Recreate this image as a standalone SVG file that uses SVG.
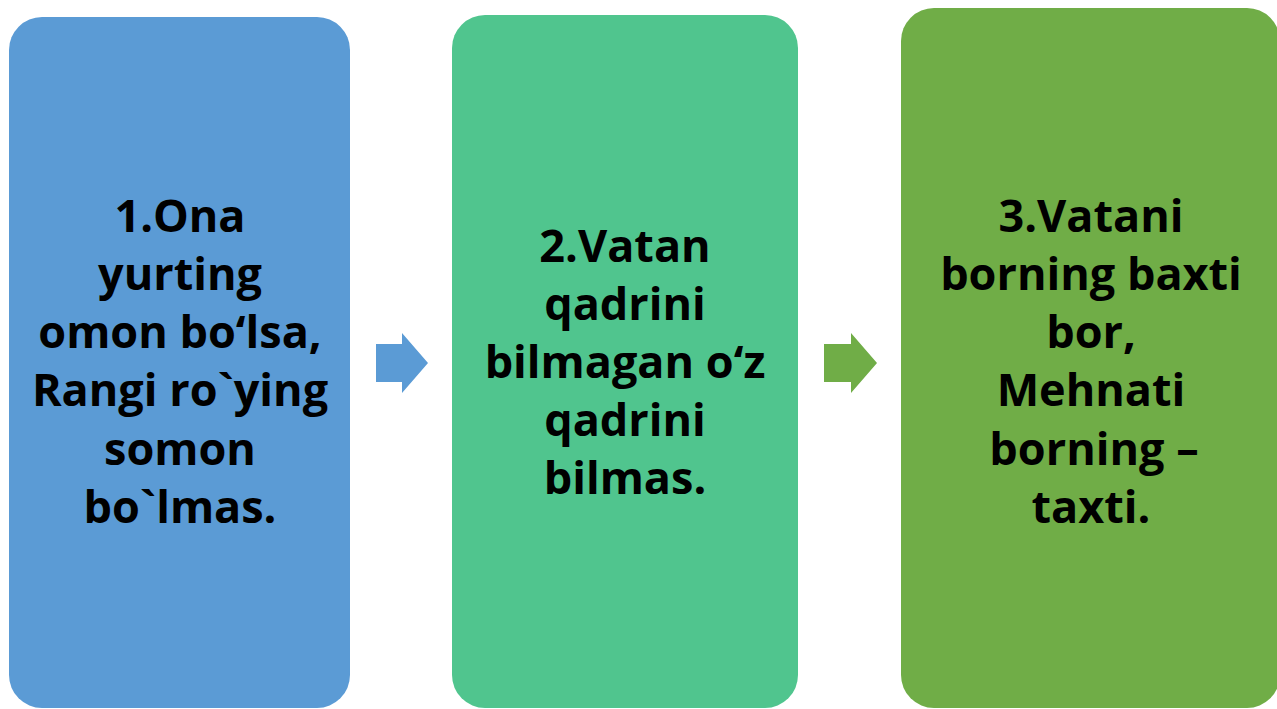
<svg xmlns="http://www.w3.org/2000/svg" width="1277" height="709" viewBox="0 0 1277 709">
<style>
.t{font-family:"Open Sans","Liberation Sans",sans-serif;font-weight:bold;font-size:45px;fill:#000;text-anchor:middle;font-variant-ligatures:none}
</style>
<rect width="1277" height="709" fill="#fff"/>
<g id="connectors">
<path d="M376,344 H402 V333 L428,363 L402,393 V382 H376 Z" fill="#5B9BD5"/>
<path d="M824,344 H851 V333 L877,363 L851,393 V382 H824 Z" fill="#70AD47"/>
</g>
<g id="node1">
<rect x="9" y="17" width="341" height="691" rx="33" fill="#5B9BD5"/>
<text class="t" x="180"><tspan x="180" y="232">1.Ona</tspan><tspan x="180" y="290">yurting</tspan><tspan x="180" y="348">omon bo‘lsa,</tspan><tspan x="180" y="406">Rangi ro`ying</tspan><tspan x="180" y="465">somon</tspan><tspan x="180" y="523">bo`lmas.</tspan></text>
</g>
<g id="node2">
<rect x="452" y="15" width="346" height="693" rx="33" fill="#50C58E"/>
<text class="t" x="625"><tspan x="625" y="262">2.Vatan</tspan><tspan x="625" y="320">qadrini</tspan><tspan x="625" y="378">bilmagan o‘z</tspan><tspan x="625" y="436">qadrini</tspan><tspan x="625" y="494">bilmas.</tspan></text>
</g>
<g id="node3">
<rect x="901" y="8" width="379" height="700" rx="33" fill="#70AD47"/>
<text class="t" x="1091"><tspan x="1091" y="232">3.Vatani</tspan><tspan x="1091" y="290">borning baxti</tspan><tspan x="1091" y="348">bor,</tspan><tspan x="1091" y="406">Mehnati</tspan><tspan x="1094" y="465">borning –</tspan><tspan x="1091" y="523">taxti.</tspan></text>
</g>
</svg>
